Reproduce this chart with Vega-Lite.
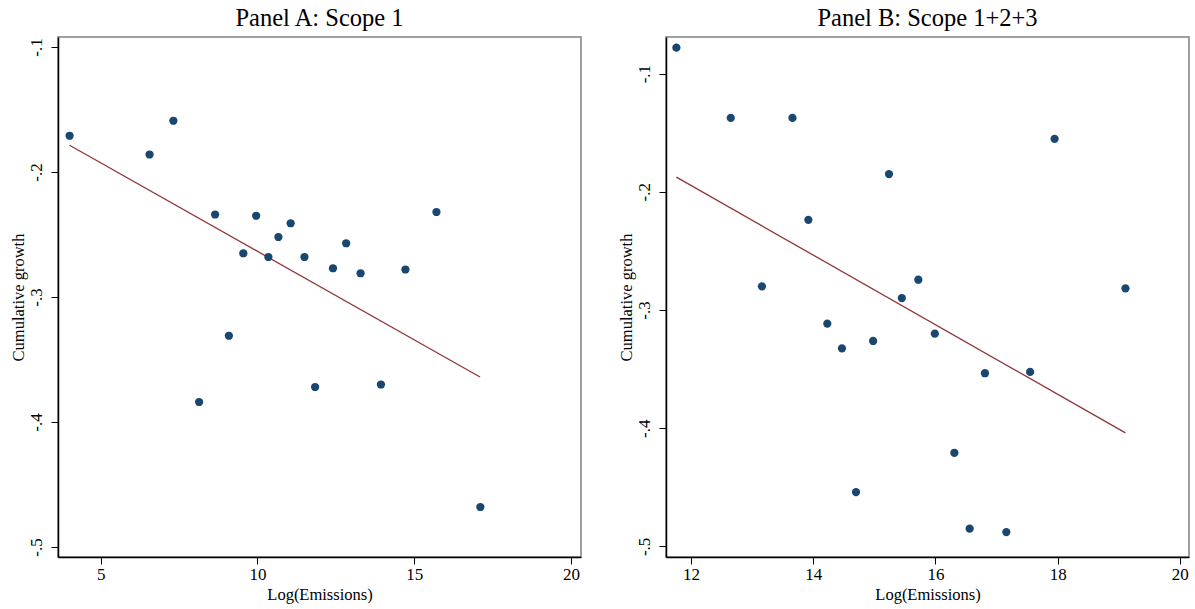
{
  "$schema": "https://vega.github.io/schema/vega-lite/v6.json",
  "padding": {"left": 9, "top": 4, "right": 2, "bottom": 0},
  "autosize": {"type": "pad"},
  "datasets": {
    "scope1": [
      {"emissions": 4.01, "growth": -0.171},
      {"emissions": 6.56, "growth": -0.186},
      {"emissions": 7.32, "growth": -0.159},
      {"emissions": 8.14, "growth": -0.384},
      {"emissions": 8.65, "growth": -0.234},
      {"emissions": 9.09, "growth": -0.331},
      {"emissions": 9.55, "growth": -0.265},
      {"emissions": 9.96, "growth": -0.235},
      {"emissions": 10.35, "growth": -0.268},
      {"emissions": 10.67, "growth": -0.252},
      {"emissions": 11.06, "growth": -0.241},
      {"emissions": 11.5, "growth": -0.268},
      {"emissions": 11.84, "growth": -0.372},
      {"emissions": 12.41, "growth": -0.277},
      {"emissions": 12.83, "growth": -0.257},
      {"emissions": 13.29, "growth": -0.281},
      {"emissions": 13.94, "growth": -0.370},
      {"emissions": 14.72, "growth": -0.278},
      {"emissions": 15.71, "growth": -0.232},
      {"emissions": 17.11, "growth": -0.468}
    ],
    "fit1": [
      {"emissions": 4.01, "growth": -0.1786},
      {"emissions": 17.1, "growth": -0.364}
    ],
    "scope123": [
      {"emissions": 11.76, "growth": -0.078},
      {"emissions": 12.65, "growth": -0.1375},
      {"emissions": 13.16, "growth": -0.280},
      {"emissions": 13.66, "growth": -0.1375},
      {"emissions": 13.92, "growth": -0.2237},
      {"emissions": 14.23, "growth": -0.3115},
      {"emissions": 14.47, "growth": -0.3324},
      {"emissions": 14.7, "growth": -0.4541},
      {"emissions": 14.98, "growth": -0.3262},
      {"emissions": 15.24, "growth": -0.185},
      {"emissions": 15.45, "growth": -0.2899},
      {"emissions": 15.72, "growth": -0.2744},
      {"emissions": 15.99, "growth": -0.320},
      {"emissions": 16.31, "growth": -0.4208},
      {"emissions": 16.56, "growth": -0.485},
      {"emissions": 16.81, "growth": -0.3535},
      {"emissions": 17.16, "growth": -0.4879},
      {"emissions": 17.55, "growth": -0.3524},
      {"emissions": 17.95, "growth": -0.1552},
      {"emissions": 19.11, "growth": -0.2817}
    ],
    "fit123": [
      {"emissions": 11.76, "growth": -0.1876},
      {"emissions": 19.11, "growth": -0.404}
    ]
  },
  "config": {
    "font": "Liberation Serif",
    "view": {"stroke": "#808080", "strokeWidth": 1.5},
    "axis": {
      "grid": false,
      "domainColor": "#000000",
      "domainWidth": 1.5,
      "tickColor": "#000000",
      "tickSize": 7,
      "tickWidth": 1,
      "labelFont": "Liberation Serif",
      "labelFontSize": 17,
      "labelColor": "#000000",
      "labelPadding": 2,
      "titleFont": "Liberation Serif",
      "titleFontSize": 16.5,
      "titleFontWeight": "normal",
      "titleColor": "#000000",
      "titlePadding": 4
    },
    "axisY": {"labelAngle": -90, "labelAlign": "center", "labelBaseline": "bottom", "labelPadding": 6, "titlePadding": 1},
    "title": {"font": "Liberation Serif", "fontSize": 24.5, "fontWeight": "normal", "color": "#000000", "offset": 6},
    "concat": {"spacing": 35}
  },
  "hconcat": [
    {
      "title": "Panel A: Scope 1",
      "width": 523,
      "height": 520,
      "layer": [
        {
          "data": {"name": "fit1"},
          "mark": {"type": "line", "color": "#90353b", "strokeWidth": 1.3},
          "encoding": {
            "x": {"field": "emissions", "type": "quantitative", "scale": {"domain": [3.64, 20.32], "nice": false, "zero": false}, "axis": {"title": "Log(Emissions)", "values": [5, 10, 15, 20], "format": "d"}},
            "y": {"field": "growth", "type": "quantitative", "scale": {"domain": [-0.508, -0.092], "nice": false, "zero": false}, "axis": {"title": "Cumulative growth", "values": [-0.5, -0.4, -0.3, -0.2, -0.1], "labelExpr": "(datum.value < 0 ? '-' : '') + '.' + round(abs(datum.value) * 10)"}}
          }
        },
        {
          "data": {"name": "scope1"},
          "mark": {"type": "circle", "size": 68, "opacity": 1, "color": "#1a476f"},
          "encoding": {
            "x": {"field": "emissions", "type": "quantitative"},
            "y": {"field": "growth", "type": "quantitative"}
          }
        }
      ]
    },
    {
      "title": "Panel B: Scope 1+2+3",
      "width": 523,
      "height": 520,
      "layer": [
        {
          "data": {"name": "fit123"},
          "mark": {"type": "line", "color": "#90353b", "strokeWidth": 1.3},
          "encoding": {
            "x": {"field": "emissions", "type": "quantitative", "scale": {"domain": [11.59, 20.15], "nice": false, "zero": false}, "axis": {"title": "Log(Emissions)", "values": [12, 14, 16, 18, 20], "format": "d"}},
            "y": {"field": "growth", "type": "quantitative", "scale": {"domain": [-0.509, -0.069], "nice": false, "zero": false}, "axis": {"title": "Cumulative growth", "values": [-0.5, -0.4, -0.3, -0.2, -0.1], "labelExpr": "(datum.value < 0 ? '-' : '') + '.' + round(abs(datum.value) * 10)"}}
          }
        },
        {
          "data": {"name": "scope123"},
          "mark": {"type": "circle", "size": 68, "opacity": 1, "color": "#1a476f"},
          "encoding": {
            "x": {"field": "emissions", "type": "quantitative"},
            "y": {"field": "growth", "type": "quantitative"}
          }
        }
      ]
    }
  ]
}
